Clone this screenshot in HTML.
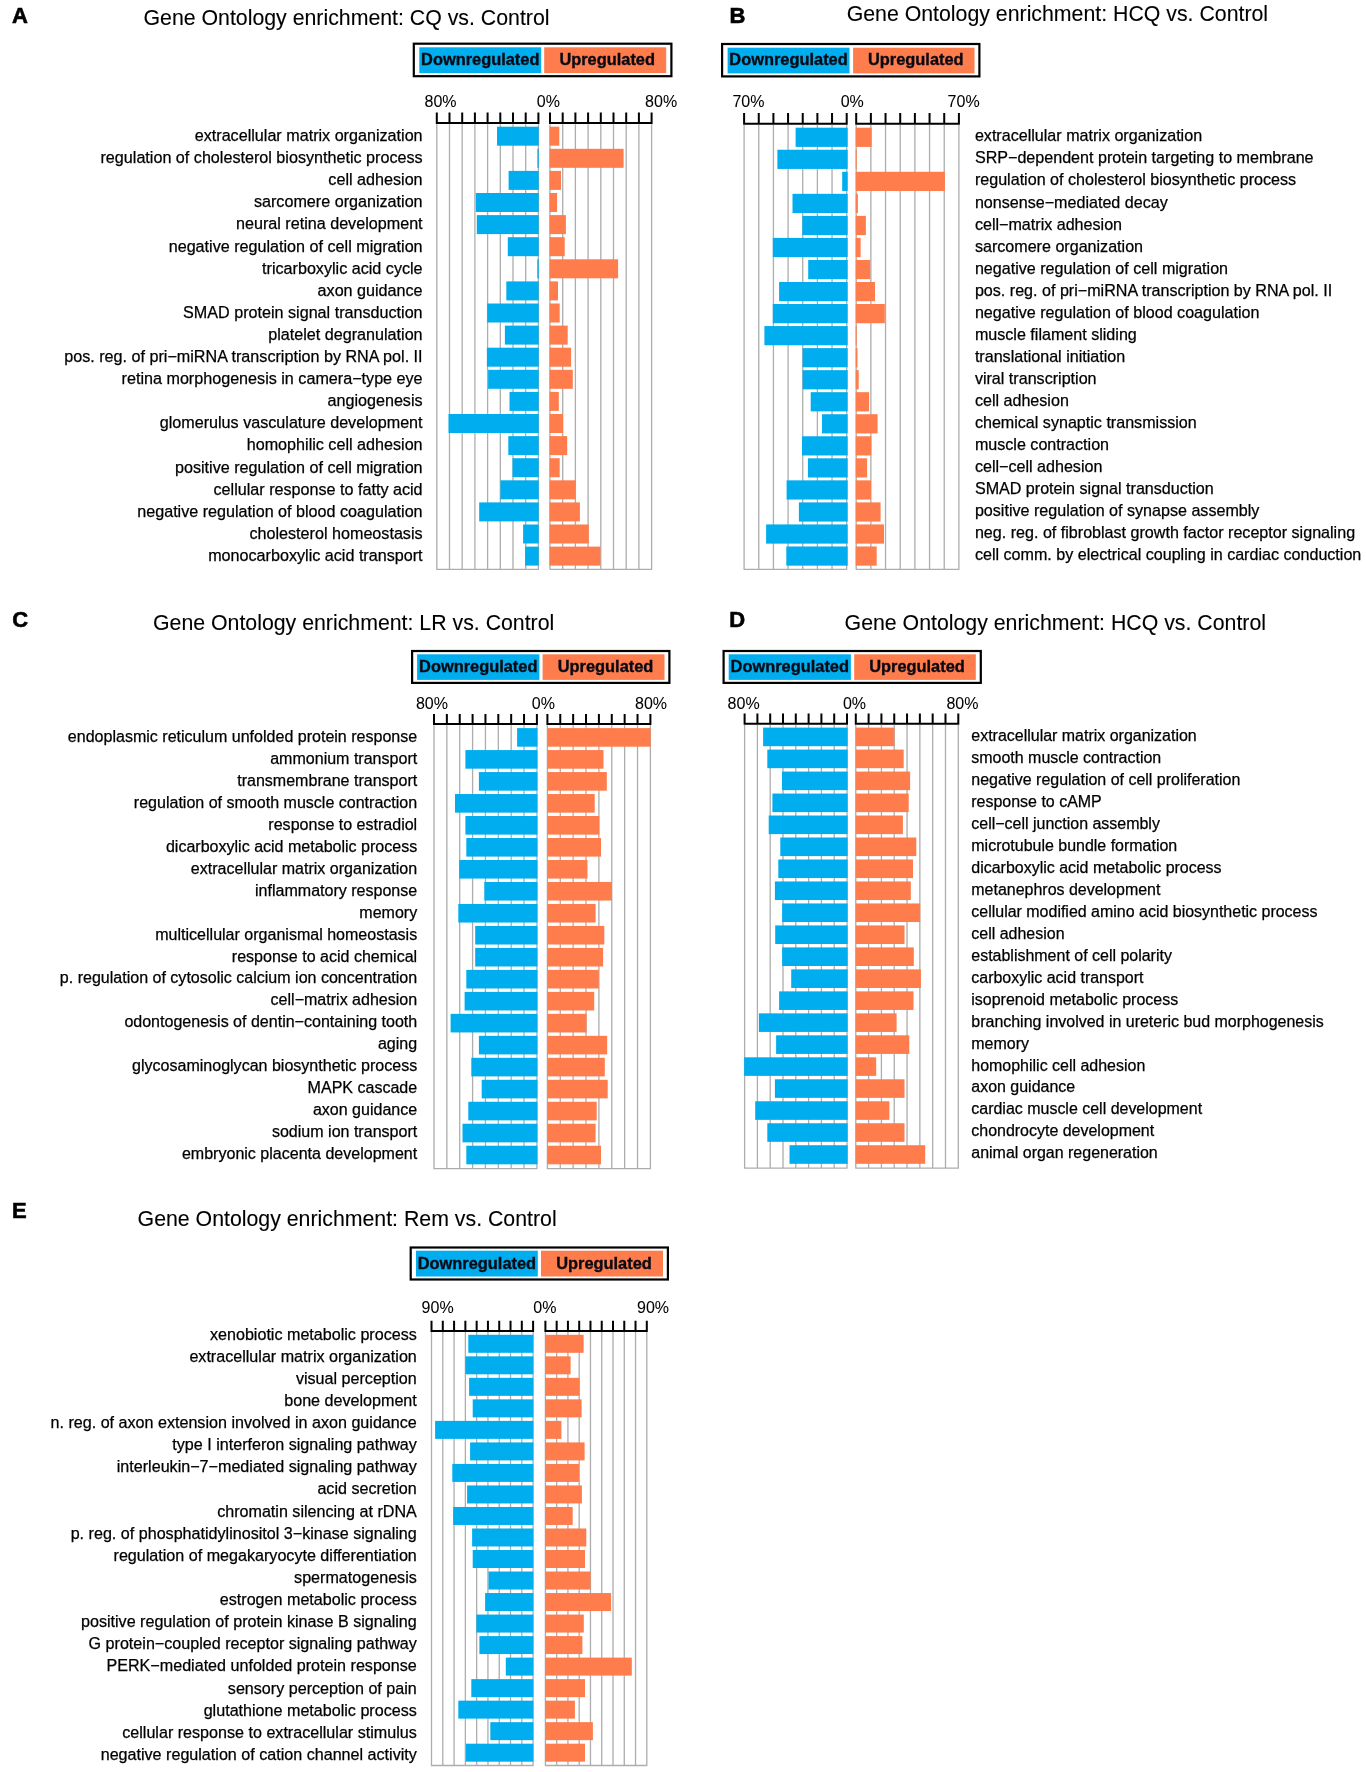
<!DOCTYPE html>
<html><head><meta charset="utf-8"><title>GO enrichment</title>
<style>
html,body{margin:0;padding:0;background:#fff;}
body{width:1366px;height:1772px;overflow:hidden;}
svg{display:block;will-change:transform;}
text{font-family:"Liberation Sans", sans-serif;fill:#000;}
.lt{font-size:22px;font-weight:bold;stroke:#000;stroke-width:0.6px;}
.tt{font-size:21.3px;stroke:#000;stroke-width:0.1px;}
.lg{font-size:16.4px;font-weight:bold;text-anchor:middle;fill:#0a0a14;stroke:#0a0a14;stroke-width:0.35px;}
.ax{font-size:16px;text-anchor:middle;stroke:#000;stroke-width:0.05px;}
.lb text{fill:#000;stroke:#000;stroke-width:0.25px;}
</style></head>
<body>
<svg width="1366" height="1772" viewBox="0 0 1366 1772">
<rect width="1366" height="1772" fill="#fff"/>
<text x="12" y="23.2" class="lt">A</text>
<text x="143.5" y="24.7" class="tt">Gene Ontology enrichment: CQ vs. Control</text>
<rect x="413.8" y="43.7" width="257.6" height="32.5" fill="#fff" stroke="#000" stroke-width="2.2"/>
<rect x="419.3" y="47.3" width="121.9" height="25.8" fill="#00AEEF"/>
<rect x="544.2" y="47.3" width="122" height="25.8" fill="#FF7C4C"/>
<text x="480.25" y="64.9" class="lg">Downregulated</text>
<text x="607.2" y="64.9" class="lg">Upregulated</text>
<text x="440.5" y="107.2" class="ax">80%</text>
<text x="548.3" y="107.2" class="ax">0%</text>
<text x="661.1" y="107.2" class="ax">80%</text>
<path d="M436.8 124.2V569.3M449.5 124.2V569.3M462.2 124.2V569.3M474.9 124.2V569.3M487.6 124.2V569.3M500.3 124.2V569.3M513 124.2V569.3M525.7 124.2V569.3M538.4 124.2V569.3M550 124.2V569.3M562.7 124.2V569.3M575.4 124.2V569.3M588.1 124.2V569.3M600.8 124.2V569.3M613.5 124.2V569.3M626.2 124.2V569.3M638.9 124.2V569.3M651.6 124.2V569.3M436.25 569.3H538.95M549.45 569.3H652.15" stroke="#ADADAD" stroke-width="1.3" fill="none"/>
<g fill="#00AEEF"><rect x="497" y="126.7" width="41.7" height="19"/><rect x="537.4" y="148.8" width="1.3" height="19"/><rect x="508.6" y="170.9" width="30.1" height="19"/><rect x="475.8" y="193" width="62.9" height="19"/><rect x="476.8" y="215.1" width="61.9" height="19"/><rect x="507.8" y="237.2" width="30.9" height="19"/><rect x="537.3" y="259.3" width="1.4" height="19"/><rect x="506.3" y="281.4" width="32.4" height="19"/><rect x="487.2" y="303.5" width="51.5" height="19"/><rect x="504.9" y="325.6" width="33.8" height="19"/><rect x="486.9" y="347.7" width="51.8" height="19"/><rect x="488.1" y="369.8" width="50.6" height="19"/><rect x="509.5" y="391.9" width="29.2" height="19"/><rect x="448.5" y="414" width="90.2" height="19"/><rect x="508.3" y="436.1" width="30.4" height="19"/><rect x="512.5" y="458.2" width="26.2" height="19"/><rect x="500.4" y="480.3" width="38.3" height="19"/><rect x="479.2" y="502.4" width="59.5" height="19"/><rect x="523.1" y="524.5" width="15.6" height="19"/><rect x="525.1" y="546.6" width="13.6" height="19"/></g>
<g fill="#FF7C4C"><rect x="549.5" y="126.7" width="9.8" height="19"/><rect x="549.5" y="148.8" width="74.1" height="19"/><rect x="549.5" y="170.9" width="11.5" height="19"/><rect x="549.5" y="193" width="7.6" height="19"/><rect x="549.5" y="215.1" width="16.4" height="19"/><rect x="549.5" y="237.2" width="15.2" height="19"/><rect x="549.5" y="259.3" width="68.6" height="19"/><rect x="549.5" y="281.4" width="8.5" height="19"/><rect x="549.5" y="303.5" width="10.2" height="19"/><rect x="549.5" y="325.6" width="18.2" height="19"/><rect x="549.5" y="347.7" width="21.6" height="19"/><rect x="549.5" y="369.8" width="23.3" height="19"/><rect x="549.5" y="391.9" width="9.3" height="19"/><rect x="549.5" y="414" width="13.5" height="19"/><rect x="549.5" y="436.1" width="17.7" height="19"/><rect x="549.5" y="458.2" width="10.2" height="19"/><rect x="549.5" y="480.3" width="26.1" height="19"/><rect x="549.5" y="502.4" width="30.4" height="19"/><rect x="549.5" y="524.5" width="39.3" height="19"/><rect x="549.5" y="546.6" width="50.9" height="19"/></g>
<path d="M435.8 123H539.4M549 123H652.6M436.8 112.4V123M449.5 112.4V123M462.2 112.4V123M474.9 112.4V123M487.6 112.4V123M500.3 112.4V123M513 112.4V123M525.7 112.4V123M538.4 112.4V123M550 112.4V123M562.7 112.4V123M575.4 112.4V123M588.1 112.4V123M600.8 112.4V123M613.5 112.4V123M626.2 112.4V123M638.9 112.4V123M651.6 112.4V123" stroke="#000" stroke-width="2" fill="none"/>
<g class="lb" text-anchor="end" font-size="16.15"><text x="422.6" y="141">extracellular matrix organization</text><text x="422.6" y="163.1">regulation of cholesterol biosynthetic process</text><text x="422.6" y="185.2">cell adhesion</text><text x="422.6" y="207.3">sarcomere organization</text><text x="422.6" y="229.4">neural retina development</text><text x="422.6" y="251.5">negative regulation of cell migration</text><text x="422.6" y="273.6">tricarboxylic acid cycle</text><text x="422.6" y="295.7">axon guidance</text><text x="422.6" y="317.8">SMAD protein signal transduction</text><text x="422.6" y="339.9">platelet degranulation</text><text x="422.6" y="362">pos. reg. of pri−miRNA transcription by RNA pol. II</text><text x="422.6" y="384.1">retina morphogenesis in camera−type eye</text><text x="422.6" y="406.2">angiogenesis</text><text x="422.6" y="428.3">glomerulus vasculature development</text><text x="422.6" y="450.4">homophilic cell adhesion</text><text x="422.6" y="472.5">positive regulation of cell migration</text><text x="422.6" y="494.6">cellular response to fatty acid</text><text x="422.6" y="516.7">negative regulation of blood coagulation</text><text x="422.6" y="538.8">cholesterol homeostasis</text><text x="422.6" y="560.9">monocarboxylic acid transport</text></g>
<text x="729.4" y="22.5" class="lt">B</text>
<text x="846.7" y="21.1" class="tt">Gene Ontology enrichment: HCQ vs. Control</text>
<rect x="722.1" y="44" width="257.3" height="32.4" fill="#fff" stroke="#000" stroke-width="2.2"/>
<rect x="727.6" y="47.7" width="121.9" height="25.7" fill="#00AEEF"/>
<rect x="853.1" y="47.7" width="121.4" height="25.7" fill="#FF7C4C"/>
<text x="788.55" y="65.2" class="lg">Downregulated</text>
<text x="915.8" y="65.2" class="lg">Upregulated</text>
<text x="748.4" y="107.4" class="ax">70%</text>
<text x="852.2" y="107.4" class="ax">0%</text>
<text x="963.6" y="107.4" class="ax">70%</text>
<path d="M744.1 124.9V569.3M758.76 124.9V569.3M773.41 124.9V569.3M788.07 124.9V569.3M802.73 124.9V569.3M817.39 124.9V569.3M832.04 124.9V569.3M846.7 124.9V569.3M856.2 124.9V569.3M870.87 124.9V569.3M885.54 124.9V569.3M900.21 124.9V569.3M914.89 124.9V569.3M929.56 124.9V569.3M944.23 124.9V569.3M958.9 124.9V569.3M743.55 569.3H847.25M855.65 569.3H959.45" stroke="#ADADAD" stroke-width="1.3" fill="none"/>
<g fill="#00AEEF"><rect x="795.6" y="127.7" width="52.1" height="19.2"/><rect x="777.4" y="149.74" width="70.3" height="19.2"/><rect x="842.2" y="171.78" width="5.5" height="19.2"/><rect x="792.5" y="193.82" width="55.2" height="19.2"/><rect x="802.3" y="215.86" width="45.4" height="19.2"/><rect x="772.8" y="237.9" width="74.9" height="19.2"/><rect x="808.2" y="259.94" width="39.5" height="19.2"/><rect x="779.1" y="281.98" width="68.6" height="19.2"/><rect x="772.8" y="304.02" width="74.9" height="19.2"/><rect x="764.4" y="326.06" width="83.3" height="19.2"/><rect x="802.6" y="348.1" width="45.1" height="19.2"/><rect x="802.6" y="370.14" width="45.1" height="19.2"/><rect x="810.7" y="392.18" width="37" height="19.2"/><rect x="822" y="414.22" width="25.7" height="19.2"/><rect x="802" y="436.26" width="45.7" height="19.2"/><rect x="807.9" y="458.3" width="39.8" height="19.2"/><rect x="786.6" y="480.34" width="61.1" height="19.2"/><rect x="798.9" y="502.38" width="48.8" height="19.2"/><rect x="766.1" y="524.42" width="81.6" height="19.2"/><rect x="786.3" y="546.46" width="61.4" height="19.2"/></g>
<g fill="#FF7C4C"><rect x="855.7" y="127.7" width="16" height="19.2"/><rect x="855.7" y="149.74" width="1" height="19.2"/><rect x="855.7" y="171.78" width="89.2" height="19.2"/><rect x="855.7" y="193.82" width="2.2" height="19.2"/><rect x="855.7" y="215.86" width="10.2" height="19.2"/><rect x="855.7" y="237.9" width="4.9" height="19.2"/><rect x="855.7" y="259.94" width="14.5" height="19.2"/><rect x="855.7" y="281.98" width="19.3" height="19.2"/><rect x="855.7" y="304.02" width="29.1" height="19.2"/><rect x="855.7" y="326.06" width="1" height="19.2"/><rect x="855.7" y="348.1" width="1.8" height="19.2"/><rect x="855.7" y="370.14" width="3" height="19.2"/><rect x="855.7" y="392.18" width="13.4" height="19.2"/><rect x="855.7" y="414.22" width="21.9" height="19.2"/><rect x="855.7" y="436.26" width="15.6" height="19.2"/><rect x="855.7" y="458.3" width="11.4" height="19.2"/><rect x="855.7" y="480.34" width="15.3" height="19.2"/><rect x="855.7" y="502.38" width="24.9" height="19.2"/><rect x="855.7" y="524.42" width="28.3" height="19.2"/><rect x="855.7" y="546.46" width="21" height="19.2"/></g>
<path d="M743.1 123.7H847.7M855.2 123.7H959.9M744.1 113.1V123.7M758.76 113.1V123.7M773.41 113.1V123.7M788.07 113.1V123.7M802.73 113.1V123.7M817.39 113.1V123.7M832.04 113.1V123.7M846.7 113.1V123.7M856.2 113.1V123.7M870.87 113.1V123.7M885.54 113.1V123.7M900.21 113.1V123.7M914.89 113.1V123.7M929.56 113.1V123.7M944.23 113.1V123.7M958.9 113.1V123.7" stroke="#000" stroke-width="2" fill="none"/>
<g class="lb" text-anchor="start" font-size="16.1"><text x="974.9" y="141.4">extracellular matrix organization</text><text x="974.9" y="163.44">SRP−dependent protein targeting to membrane</text><text x="974.9" y="185.48">regulation of cholesterol biosynthetic process</text><text x="974.9" y="207.52">nonsense−mediated decay</text><text x="974.9" y="229.56">cell−matrix adhesion</text><text x="974.9" y="251.6">sarcomere organization</text><text x="974.9" y="273.64">negative regulation of cell migration</text><text x="974.9" y="295.68">pos. reg. of pri−miRNA transcription by RNA pol. II</text><text x="974.9" y="317.72">negative regulation of blood coagulation</text><text x="974.9" y="339.76">muscle filament sliding</text><text x="974.9" y="361.8">translational initiation</text><text x="974.9" y="383.84">viral transcription</text><text x="974.9" y="405.88">cell adhesion</text><text x="974.9" y="427.92">chemical synaptic transmission</text><text x="974.9" y="449.96">muscle contraction</text><text x="974.9" y="472">cell−cell adhesion</text><text x="974.9" y="494.04">SMAD protein signal transduction</text><text x="974.9" y="516.08">positive regulation of synapse assembly</text><text x="974.9" y="538.12">neg. reg. of fibroblast growth factor receptor signaling</text><text x="974.9" y="560.16">cell comm. by electrical coupling in cardiac conduction</text></g>
<text x="12.3" y="626.5" class="lt">C</text>
<text x="153" y="630.2" class="tt">Gene Ontology enrichment: LR vs. Control</text>
<rect x="412.1" y="651" width="257.3" height="31.9" fill="#fff" stroke="#000" stroke-width="2.2"/>
<rect x="417.1" y="654.3" width="122.3" height="25.6" fill="#00AEEF"/>
<rect x="542.6" y="654.3" width="121.9" height="25.6" fill="#FF7C4C"/>
<text x="478.25" y="672" class="lg">Downregulated</text>
<text x="605.55" y="672" class="lg">Upregulated</text>
<text x="431.9" y="708.9" class="ax">80%</text>
<text x="543.3" y="708.9" class="ax">0%</text>
<text x="651" y="708.9" class="ax">80%</text>
<path d="M434 725.2V1168.7M446.86 725.2V1168.7M459.73 725.2V1168.7M472.59 725.2V1168.7M485.45 725.2V1168.7M498.31 725.2V1168.7M511.17 725.2V1168.7M524.04 725.2V1168.7M536.9 725.2V1168.7M547.4 725.2V1168.7M560.27 725.2V1168.7M573.15 725.2V1168.7M586.02 725.2V1168.7M598.9 725.2V1168.7M611.77 725.2V1168.7M624.65 725.2V1168.7M637.52 725.2V1168.7M650.4 725.2V1168.7M433.45 1168.7H537.45M546.85 1168.7H650.95" stroke="#ADADAD" stroke-width="1.3" fill="none"/>
<g fill="#00AEEF"><rect x="517.1" y="728.1" width="20.4" height="18.6"/><rect x="465.4" y="750.08" width="72.1" height="18.6"/><rect x="478.9" y="772.06" width="58.6" height="18.6"/><rect x="455" y="794.04" width="82.5" height="18.6"/><rect x="465.4" y="816.02" width="72.1" height="18.6"/><rect x="466.3" y="838" width="71.2" height="18.6"/><rect x="459.2" y="859.98" width="78.3" height="18.6"/><rect x="484.3" y="881.96" width="53.2" height="18.6"/><rect x="458.3" y="903.94" width="79.2" height="18.6"/><rect x="475.2" y="925.92" width="62.3" height="18.6"/><rect x="475.2" y="947.9" width="62.3" height="18.6"/><rect x="466.3" y="969.88" width="71.2" height="18.6"/><rect x="464.6" y="991.86" width="72.9" height="18.6"/><rect x="450.6" y="1013.84" width="86.9" height="18.6"/><rect x="478.9" y="1035.82" width="58.6" height="18.6"/><rect x="471.3" y="1057.8" width="66.2" height="18.6"/><rect x="481.7" y="1079.78" width="55.8" height="18.6"/><rect x="468.3" y="1101.76" width="69.2" height="18.6"/><rect x="462.5" y="1123.74" width="75" height="18.6"/><rect x="466.3" y="1145.72" width="71.2" height="18.6"/></g>
<g fill="#FF7C4C"><rect x="547.3" y="728.1" width="103.3" height="18.6"/><rect x="547.3" y="750.08" width="56.2" height="18.6"/><rect x="547.3" y="772.06" width="59.5" height="18.6"/><rect x="547.3" y="794.04" width="47.4" height="18.6"/><rect x="547.3" y="816.02" width="52" height="18.6"/><rect x="547.3" y="838" width="53.7" height="18.6"/><rect x="547.3" y="859.98" width="40.2" height="18.6"/><rect x="547.3" y="881.96" width="64.6" height="18.6"/><rect x="547.3" y="903.94" width="48.3" height="18.6"/><rect x="547.3" y="925.92" width="57" height="18.6"/><rect x="547.3" y="947.9" width="55.8" height="18.6"/><rect x="547.3" y="969.88" width="51.5" height="18.6"/><rect x="547.3" y="991.86" width="46.9" height="18.6"/><rect x="547.3" y="1013.84" width="39.3" height="18.6"/><rect x="547.3" y="1035.82" width="59.9" height="18.6"/><rect x="547.3" y="1057.8" width="57.5" height="18.6"/><rect x="547.3" y="1079.78" width="60.4" height="18.6"/><rect x="547.3" y="1101.76" width="49.4" height="18.6"/><rect x="547.3" y="1123.74" width="48.3" height="18.6"/><rect x="547.3" y="1145.72" width="53.7" height="18.6"/></g>
<path d="M433 724H537.9M546.4 724H651.4M434 714V724M446.86 714V724M459.73 714V724M472.59 714V724M485.45 714V724M498.31 714V724M511.17 714V724M524.04 714V724M536.9 714V724M547.4 714V724M560.27 714V724M573.15 714V724M586.02 714V724M598.9 714V724M611.77 714V724M624.65 714V724M637.52 714V724M650.4 714V724" stroke="#000" stroke-width="2" fill="none"/>
<g class="lb" text-anchor="end" font-size="16.05"><text x="417.2" y="741.7">endoplasmic reticulum unfolded protein response</text><text x="417.2" y="763.68">ammonium transport</text><text x="417.2" y="785.66">transmembrane transport</text><text x="417.2" y="807.64">regulation of smooth muscle contraction</text><text x="417.2" y="829.62">response to estradiol</text><text x="417.2" y="851.6">dicarboxylic acid metabolic process</text><text x="417.2" y="873.58">extracellular matrix organization</text><text x="417.2" y="895.56">inflammatory response</text><text x="417.2" y="917.54">memory</text><text x="417.2" y="939.52">multicellular organismal homeostasis</text><text x="417.2" y="961.5">response to acid chemical</text><text x="417.2" y="983.48">p. regulation of cytosolic calcium ion concentration</text><text x="417.2" y="1005.46">cell−matrix adhesion</text><text x="417.2" y="1027.44">odontogenesis of dentin−containing tooth</text><text x="417.2" y="1049.42">aging</text><text x="417.2" y="1071.4">glycosaminoglycan biosynthetic process</text><text x="417.2" y="1093.38">MAPK cascade</text><text x="417.2" y="1115.36">axon guidance</text><text x="417.2" y="1137.34">sodium ion transport</text><text x="417.2" y="1159.32">embryonic placenta development</text></g>
<text x="729.3" y="626.7" class="lt">D</text>
<text x="844.6" y="630.2" class="tt">Gene Ontology enrichment: HCQ vs. Control</text>
<rect x="723.6" y="651" width="257.2" height="31.9" fill="#fff" stroke="#000" stroke-width="2.2"/>
<rect x="728.7" y="654.3" width="122.2" height="25.6" fill="#00AEEF"/>
<rect x="854.2" y="654.3" width="121.6" height="25.6" fill="#FF7C4C"/>
<text x="789.8" y="672" class="lg">Downregulated</text>
<text x="917" y="672" class="lg">Upregulated</text>
<text x="743.6" y="708.9" class="ax">80%</text>
<text x="854.5" y="708.9" class="ax">0%</text>
<text x="962.4" y="708.9" class="ax">80%</text>
<path d="M744.6 725V1168.2M757.4 725V1168.2M770.2 725V1168.2M783 725V1168.2M795.8 725V1168.2M808.6 725V1168.2M821.4 725V1168.2M834.2 725V1168.2M847 725V1168.2M855.8 725V1168.2M868.61 725V1168.2M881.42 725V1168.2M894.24 725V1168.2M907.05 725V1168.2M919.86 725V1168.2M932.67 725V1168.2M945.49 725V1168.2M958.3 725V1168.2M744.05 1168.2H847.55M855.25 1168.2H958.85" stroke="#ADADAD" stroke-width="1.3" fill="none"/>
<g fill="#00AEEF"><rect x="763.1" y="727.6" width="84.6" height="18.6"/><rect x="767.3" y="749.58" width="80.4" height="18.6"/><rect x="782" y="771.56" width="65.7" height="18.6"/><rect x="772.4" y="793.54" width="75.3" height="18.6"/><rect x="768.7" y="815.52" width="79" height="18.6"/><rect x="780.3" y="837.5" width="67.4" height="18.6"/><rect x="778.3" y="859.48" width="69.4" height="18.6"/><rect x="774.9" y="881.46" width="72.8" height="18.6"/><rect x="782.1" y="903.44" width="65.6" height="18.6"/><rect x="775.2" y="925.42" width="72.5" height="18.6"/><rect x="782.1" y="947.4" width="65.6" height="18.6"/><rect x="791.2" y="969.38" width="56.5" height="18.6"/><rect x="779.1" y="991.36" width="68.6" height="18.6"/><rect x="758.9" y="1013.34" width="88.8" height="18.6"/><rect x="776.1" y="1035.32" width="71.6" height="18.6"/><rect x="744.1" y="1057.3" width="103.6" height="18.6"/><rect x="774.9" y="1079.28" width="72.8" height="18.6"/><rect x="755.2" y="1101.26" width="92.5" height="18.6"/><rect x="767.3" y="1123.24" width="80.4" height="18.6"/><rect x="789.5" y="1145.22" width="58.2" height="18.6"/></g>
<g fill="#FF7C4C"><rect x="855.7" y="727.6" width="38.7" height="18.6"/><rect x="855.7" y="749.58" width="48" height="18.6"/><rect x="855.7" y="771.56" width="54.4" height="18.6"/><rect x="855.7" y="793.54" width="53" height="18.6"/><rect x="855.7" y="815.52" width="47.2" height="18.6"/><rect x="855.7" y="837.5" width="60.6" height="18.6"/><rect x="855.7" y="859.48" width="57.3" height="18.6"/><rect x="855.7" y="881.46" width="55.1" height="18.6"/><rect x="855.7" y="903.44" width="64.5" height="18.6"/><rect x="855.7" y="925.42" width="48.8" height="18.6"/><rect x="855.7" y="947.4" width="58.1" height="18.6"/><rect x="855.7" y="969.38" width="65.2" height="18.6"/><rect x="855.7" y="991.36" width="57.8" height="18.6"/><rect x="855.7" y="1013.34" width="40.9" height="18.6"/><rect x="855.7" y="1035.32" width="53.6" height="18.6"/><rect x="855.7" y="1057.3" width="20.5" height="18.6"/><rect x="855.7" y="1079.28" width="48.8" height="18.6"/><rect x="855.7" y="1101.26" width="33.7" height="18.6"/><rect x="855.7" y="1123.24" width="48.8" height="18.6"/><rect x="855.7" y="1145.22" width="69.5" height="18.6"/></g>
<path d="M743.6 723.8H848M854.8 723.8H959.3M744.6 713.4V723.8M757.4 713.4V723.8M770.2 713.4V723.8M783 713.4V723.8M795.8 713.4V723.8M808.6 713.4V723.8M821.4 713.4V723.8M834.2 713.4V723.8M847 713.4V723.8M855.8 713.4V723.8M868.61 713.4V723.8M881.42 713.4V723.8M894.24 713.4V723.8M907.05 713.4V723.8M919.86 713.4V723.8M932.67 713.4V723.8M945.49 713.4V723.8M958.3 713.4V723.8" stroke="#000" stroke-width="2" fill="none"/>
<g class="lb" text-anchor="start" font-size="15.97"><text x="971.3" y="740.8">extracellular matrix organization</text><text x="971.3" y="762.78">smooth muscle contraction</text><text x="971.3" y="784.76">negative regulation of cell proliferation</text><text x="971.3" y="806.74">response to cAMP</text><text x="971.3" y="828.72">cell−cell junction assembly</text><text x="971.3" y="850.7">microtubule bundle formation</text><text x="971.3" y="872.68">dicarboxylic acid metabolic process</text><text x="971.3" y="894.66">metanephros development</text><text x="971.3" y="916.64">cellular modified amino acid biosynthetic process</text><text x="971.3" y="938.62">cell adhesion</text><text x="971.3" y="960.6">establishment of cell polarity</text><text x="971.3" y="982.58">carboxylic acid transport</text><text x="971.3" y="1004.56">isoprenoid metabolic process</text><text x="971.3" y="1026.54">branching involved in ureteric bud morphogenesis</text><text x="971.3" y="1048.52">memory</text><text x="971.3" y="1070.5">homophilic cell adhesion</text><text x="971.3" y="1092.48">axon guidance</text><text x="971.3" y="1114.46">cardiac muscle cell development</text><text x="971.3" y="1136.44">chondrocyte development</text><text x="971.3" y="1158.42">animal organ regeneration</text></g>
<text x="12" y="1218.3" class="lt">E</text>
<text x="137.6" y="1226.4" class="tt">Gene Ontology enrichment: Rem vs. Control</text>
<rect x="410.7" y="1247.5" width="257.2" height="32" fill="#fff" stroke="#000" stroke-width="2.2"/>
<rect x="416" y="1250.7" width="121.8" height="25.8" fill="#00AEEF"/>
<rect x="541" y="1250.7" width="122" height="25.8" fill="#FF7C4C"/>
<text x="476.9" y="1268.6" class="lg">Downregulated</text>
<text x="604" y="1268.6" class="lg">Upregulated</text>
<text x="437.6" y="1312.7" class="ax">90%</text>
<text x="544.9" y="1312.7" class="ax">0%</text>
<text x="653" y="1312.7" class="ax">90%</text>
<path d="M431.5 1332.1V1765.5M442.79 1332.1V1765.5M454.08 1332.1V1765.5M465.37 1332.1V1765.5M476.66 1332.1V1765.5M487.94 1332.1V1765.5M499.23 1332.1V1765.5M510.52 1332.1V1765.5M521.81 1332.1V1765.5M533.1 1332.1V1765.5M545.4 1332.1V1765.5M556.67 1332.1V1765.5M567.93 1332.1V1765.5M579.2 1332.1V1765.5M590.47 1332.1V1765.5M601.73 1332.1V1765.5M613 1332.1V1765.5M624.27 1332.1V1765.5M635.53 1332.1V1765.5M646.8 1332.1V1765.5M430.95 1765.5H533.65M544.85 1765.5H647.35" stroke="#ADADAD" stroke-width="1.3" fill="none"/>
<g fill="#00AEEF"><rect x="468.3" y="1334.8" width="65" height="18"/><rect x="465.4" y="1356.32" width="67.9" height="18"/><rect x="469.1" y="1377.84" width="64.2" height="18"/><rect x="472.7" y="1399.36" width="60.6" height="18"/><rect x="435.1" y="1420.88" width="98.2" height="18"/><rect x="470.1" y="1442.4" width="63.2" height="18"/><rect x="452.3" y="1463.92" width="81" height="18"/><rect x="467.1" y="1485.44" width="66.2" height="18"/><rect x="453.1" y="1506.96" width="80.2" height="18"/><rect x="472.1" y="1528.48" width="61.2" height="18"/><rect x="472.7" y="1550" width="60.6" height="18"/><rect x="488.5" y="1571.52" width="44.8" height="18"/><rect x="485.1" y="1593.04" width="48.2" height="18"/><rect x="476.4" y="1614.56" width="56.9" height="18"/><rect x="479.4" y="1636.08" width="53.9" height="18"/><rect x="505.8" y="1657.6" width="27.5" height="18"/><rect x="471.3" y="1679.12" width="62" height="18"/><rect x="458.3" y="1700.64" width="75" height="18"/><rect x="490.3" y="1722.16" width="43" height="18"/><rect x="465.9" y="1743.68" width="67.4" height="18"/></g>
<g fill="#FF7C4C"><rect x="545.2" y="1334.8" width="38.4" height="18"/><rect x="545.2" y="1356.32" width="25.4" height="18"/><rect x="545.2" y="1377.84" width="34.4" height="18"/><rect x="545.2" y="1399.36" width="36.4" height="18"/><rect x="545.2" y="1420.88" width="16.2" height="18"/><rect x="545.2" y="1442.4" width="39.4" height="18"/><rect x="545.2" y="1463.92" width="33.9" height="18"/><rect x="545.2" y="1485.44" width="36.7" height="18"/><rect x="545.2" y="1506.96" width="27.5" height="18"/><rect x="545.2" y="1528.48" width="41.1" height="18"/><rect x="545.2" y="1550" width="39.8" height="18"/><rect x="545.2" y="1571.52" width="45.3" height="18"/><rect x="545.2" y="1593.04" width="65.9" height="18"/><rect x="545.2" y="1614.56" width="38.6" height="18"/><rect x="545.2" y="1636.08" width="37.2" height="18"/><rect x="545.2" y="1657.6" width="86.6" height="18"/><rect x="545.2" y="1679.12" width="39.8" height="18"/><rect x="545.2" y="1700.64" width="29.7" height="18"/><rect x="545.2" y="1722.16" width="47.7" height="18"/><rect x="545.2" y="1743.68" width="39.8" height="18"/></g>
<path d="M430.5 1330.9H534.1M544.4 1330.9H647.8M431.5 1320.7V1330.9M442.79 1320.7V1330.9M454.08 1320.7V1330.9M465.37 1320.7V1330.9M476.66 1320.7V1330.9M487.94 1320.7V1330.9M499.23 1320.7V1330.9M510.52 1320.7V1330.9M521.81 1320.7V1330.9M533.1 1320.7V1330.9M545.4 1320.7V1330.9M556.67 1320.7V1330.9M567.93 1320.7V1330.9M579.2 1320.7V1330.9M590.47 1320.7V1330.9M601.73 1320.7V1330.9M613 1320.7V1330.9M624.27 1320.7V1330.9M635.53 1320.7V1330.9M646.8 1320.7V1330.9" stroke="#000" stroke-width="2" fill="none"/>
<g class="lb" text-anchor="end" font-size="16.12"><text x="416.8" y="1339.6">xenobiotic metabolic process</text><text x="416.8" y="1361.72">extracellular matrix organization</text><text x="416.8" y="1383.84">visual perception</text><text x="416.8" y="1405.96">bone development</text><text x="416.8" y="1428.08">n. reg. of axon extension involved in axon guidance</text><text x="416.8" y="1450.2">type I interferon signaling pathway</text><text x="416.8" y="1472.32">interleukin−7−mediated signaling pathway</text><text x="416.8" y="1494.44">acid secretion</text><text x="416.8" y="1516.56">chromatin silencing at rDNA</text><text x="416.8" y="1538.68">p. reg. of phosphatidylinositol 3−kinase signaling</text><text x="416.8" y="1560.8">regulation of megakaryocyte differentiation</text><text x="416.8" y="1582.92">spermatogenesis</text><text x="416.8" y="1605.04">estrogen metabolic process</text><text x="416.8" y="1627.16">positive regulation of protein kinase B signaling</text><text x="416.8" y="1649.28">G protein−coupled receptor signaling pathway</text><text x="416.8" y="1671.4">PERK−mediated unfolded protein response</text><text x="416.8" y="1693.52">sensory perception of pain</text><text x="416.8" y="1715.64">glutathione metabolic process</text><text x="416.8" y="1737.76">cellular response to extracellular stimulus</text><text x="416.8" y="1759.88">negative regulation of cation channel activity</text></g>
</svg>
</body></html>
